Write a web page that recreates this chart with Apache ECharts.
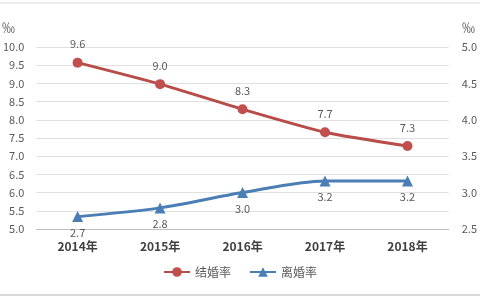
<!DOCTYPE html>
<html>
<head>
<meta charset="utf-8">
<script src="https://cdn.jsdelivr.net/npm/echarts@6/dist/echarts.min.js"></script>
<style>
  html, body { margin: 0; padding: 0; background: #fff; }
  #main { width: 480px; height: 300px; }
</style>
</head>
<body>
<div id="main"></div>
<script>
// 数据
let years = ['2014年', '2015年', '2016年', '2017年', '2018年'];
let marriageRate = [9.57, 8.98, 8.29, 7.66, 7.28];
let divorceRate = [2.67, 2.79, 3.0, 3.16, 3.16];
let leftTicks = [5.0, 10.0, 0.5];
let rightTicks = [2.5, 5.0, 0.5];

let myChart = echarts.init(document.getElementById('main'));
let font = '"Noto Sans CJK SC", "Noto Sans", sans-serif';

let option = {
    backgroundColor: '#fff',
    textStyle: { fontFamily: font },
    grid: { left: 30, right: 29, top: 47, bottom: 71 },
    graphic: [
        { type: 'line', shape: { x1: 0, y1: 3, x2: 480, y2: 3 }, style: { stroke: '#d9d9d9', lineWidth: 1 } },
        { type: 'line', shape: { x1: 0, y1: 295, x2: 480, y2: 295 }, style: { stroke: '#d9d9d9', lineWidth: 2 } },
        { type: 'text', left: 2, top: 21, style: { text: '‰', fill: '#595959', font: '13px ' + font } },
        { type: 'text', left: 462, top: 21, style: { text: '‰', fill: '#595959', font: '13px ' + font } }
    ],
    legend: {
        bottom: 17,
        left: 'center',
        itemWidth: 26,
        itemHeight: 12,
        itemGap: 18,
        textStyle: { color: '#595959', fontSize: 12 },
        data: ['结婚率', '离婚率']
    },
    xAxis: {
        type: 'category',
        data: years,
        boundaryGap: true,
        axisLine: { lineStyle: { color: '#bfbfbf' } },
        axisTick: { show: false },
        axisLabel: { color: '#404040', fontSize: 12, fontWeight: 'bold', margin: 11 }
    },
    yAxis: [
        {
            type: 'value',
            min: leftTicks[0],
            max: leftTicks[1],
            interval: leftTicks[2],
            axisLine: { show: false },
            axisTick: { show: false },
            splitLine: { lineStyle: { color: '#e0e0e0' } },
            axisLabel: {
                color: '#595959', fontSize: 11, margin: 12,
                formatter: function (v) { return v.toFixed(1); }
            }
        },
        {
            type: 'value',
            min: rightTicks[0],
            max: rightTicks[1],
            interval: rightTicks[2],
            axisLine: { show: false },
            axisTick: { show: false },
            splitLine: { show: false },
            axisLabel: {
                color: '#595959', fontSize: 11, margin: 13,
                formatter: function (v) { return v.toFixed(1); }
            }
        }
    ],
    series: [
        {
            name: '结婚率',
            type: 'line',
            yAxisIndex: 0,
            data: marriageRate,
            smooth: 0.2,
            symbol: 'circle',
            symbolSize: 10,
            color: '#c0504d',
            lineStyle: { width: 3, color: '#b84c49' },
            label: {
                show: true, position: 'top', distance: 8,
                color: '#595959', fontSize: 11,
                formatter: function (p) { return p.value.toFixed(1); }
            }
        },
        {
            name: '离婚率',
            type: 'line',
            yAxisIndex: 1,
            data: divorceRate,
            smooth: 0.3,
            symbol: 'triangle',
            symbolSize: 11,
            color: '#4a7eb5',
            lineStyle: { width: 3, color: '#4a7eb5' },
            label: {
                show: true, position: 'bottom', distance: 5,
                color: '#595959', fontSize: 11,
                formatter: function (p) { return p.value.toFixed(1); }
            }
        }
    ]
};

myChart.setOption(option, true);
</script>
</body>
</html>
